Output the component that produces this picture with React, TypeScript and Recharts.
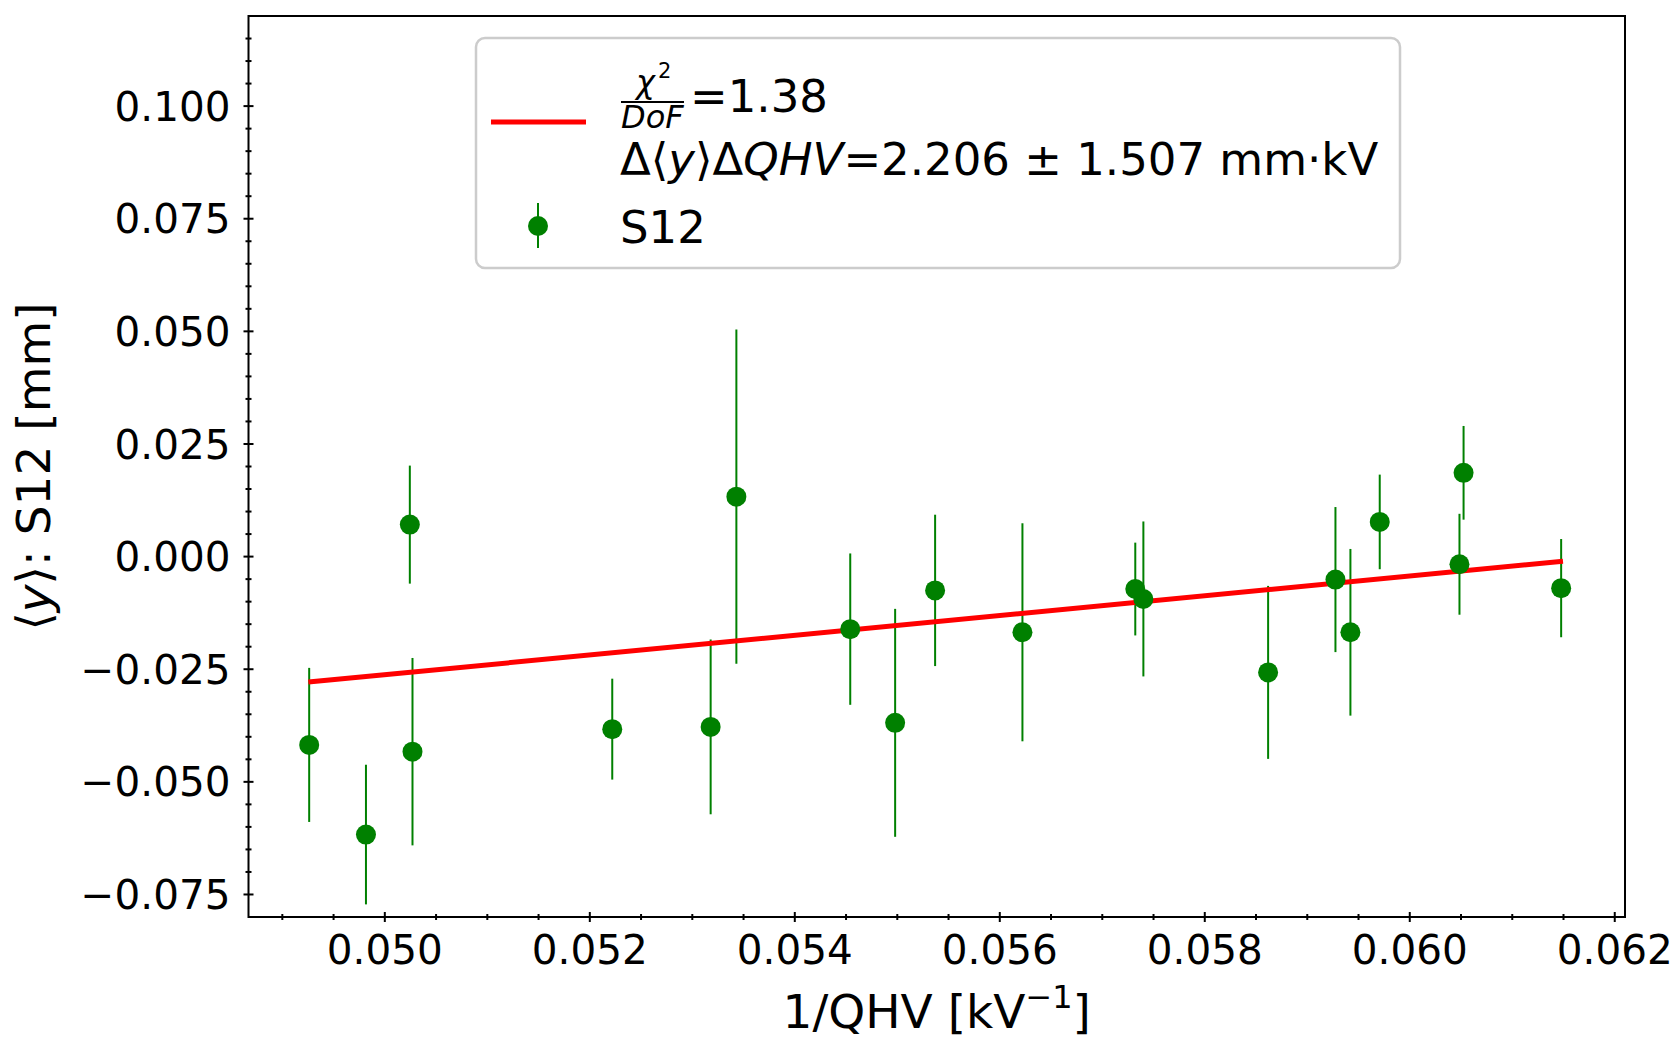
import React from 'react';
import { ScatterChart, Scatter, XAxis, YAxis, ErrorBar, ReferenceArea, Customized } from 'recharts';

// ---- data ----
const xValues = [0.049262, 0.049816, 0.050244, 0.05027, 0.052219, 0.053179, 0.05343, 0.054541, 0.054979, 0.055369, 0.056221, 0.057322, 0.057401, 0.058618, 0.059275, 0.059421, 0.059707, 0.060485, 0.060525, 0.061477];
const yValues = [-0.0418, -0.0617, 0.0071, -0.0433, -0.0383, -0.0378, 0.0133, -0.0161, -0.0369, -0.0075, -0.0168, -0.0072, -0.0094, -0.0257, -0.0051, -0.0168, 0.0077, -0.0017, 0.0186, -0.0070];
const yErrors = [0.0171, 0.0155, 0.0131, 0.0208, 0.0112, 0.0194, 0.0371, 0.0168, 0.0253, 0.0168, 0.0242, 0.0103, 0.0172, 0.0192, 0.0161, 0.0185, 0.0105, 0.0112, 0.0104, 0.0109];

const fitX = [0.049254, 0.061495];
const fitY = [-0.02785, -0.00104];

const xDomain = [0.04867, 0.0621];
const yDomain = [-0.08, 0.12];

const xMajorTicks = [0.05, 0.052, 0.054, 0.056, 0.058, 0.06, 0.062];
const xMinorTicks = [0.049, 0.0495, 0.0505, 0.051, 0.0515, 0.0525, 0.053, 0.0535, 0.0545, 0.055, 0.0555, 0.0565, 0.057, 0.0575, 0.0585, 0.059, 0.0595, 0.0605, 0.061, 0.0615];
const yMajorTicks = [-0.075, -0.05, -0.025, 0, 0.025, 0.05, 0.075, 0.1];
const yMinorTicks = [-0.07, -0.065, -0.06, -0.055, -0.045, -0.04, -0.035, -0.03, -0.02, -0.015, -0.01, -0.005, 0.005, 0.01, 0.015, 0.02, 0.03, 0.035, 0.04, 0.045, 0.055, 0.06, 0.065, 0.07, 0.08, 0.085, 0.09, 0.095, 0.105, 0.11, 0.115];

const legendFitLabel = '=1.38';
const legendSlopeValue = '=2.206 ± 1.507 mm·kV';
const legendSeriesLabel = 'S12';

// ---- layout ----
const W = 1678;
const H = 1043;
const PLOT_LEFT = 248.5;
const PLOT_RIGHT = 1625;
const PLOT_TOP = 16;
const PLOT_BOTTOM = 917;
const Y_AXIS_W = 100;
const X_AXIS_H = 60;
const FONT = '"DejaVu Sans", sans-serif';
const GREEN = '#008000';
const RED = '#ff0000';
const LABEL_SIZE = 47;

const isMajor = (v: number, majors: number[]) => majors.some((m) => Math.abs(m - v) < 1e-9);
const fmt = (v: number) => {
  const s = Math.abs(v) < 1e-12 ? '0.000' : v.toFixed(3);
  return s.replace('-', '\u2212');
};

function XTick(props: any) {
  const { x, y, payload } = props;
  const v = payload.value;
  const major = isMajor(v, xMajorTicks);
  const len = major ? 5 : 3;
  return (
    <g>
      <line x1={x} x2={x} y1={y - len} y2={y + len} stroke="#000" strokeWidth={2} />
      {major && (
        <text x={x} y={y + 47} textAnchor="middle" fontFamily={FONT} fontSize={40.5} fill="#000">
          {fmt(v)}
        </text>
      )}
    </g>
  );
}

function YTick(props: any) {
  const { x, y, payload } = props;
  const v = payload.value;
  const major = isMajor(v, yMajorTicks);
  const len = major ? 5 : 3;
  return (
    <g>
      <line x1={x - len} x2={x + len} y1={y} y2={y} stroke="#000" strokeWidth={2} />
      {major && (
        <text x={x - 18} y={y + 14.6} textAnchor="end" fontFamily={FONT} fontSize={40.5} fill="#000">
          {fmt(v)}
        </text>
      )}
    </g>
  );
}

function Overlay() {
  const cx = (PLOT_LEFT + PLOT_RIGHT) / 2;
  const cy = (PLOT_TOP + PLOT_BOTTOM) / 2;
  return (
    <g>
      {/* x label */}
      <text x={cx} y={1028} textAnchor="middle" fontFamily={FONT} fontSize={LABEL_SIZE} fill="#000">
        1/QHV [kV
        <tspan fontSize={32} dy={-20}>{'\u22121'}</tspan>
        <tspan dy={20}>]</tspan>
      </text>
      {/* y label */}
      <text
        x={50}
        y={cy}
        transform={`rotate(-90 50 ${cy})`}
        textAnchor="middle"
        fontFamily={FONT}
        fontSize={LABEL_SIZE}
        fill="#000"
      >
        {'\u27E8'}
        <tspan fontStyle="italic">y</tspan>
        {'\u27E9: S12 [mm]'}
      </text>
      {/* legend */}
      <rect x={476} y={38} width={924} height={230} rx={9} ry={9} fill="#fff" fillOpacity={0.8} stroke="#cccccc" strokeWidth={2.5} />
      <line x1={491} x2={586} y1={122} y2={122} stroke={RED} strokeWidth={5} />
      <text x={636} y={93} fontFamily={FONT} fontSize={32} fontStyle="italic" fill="#000">{'\u03C7'}</text>
      <text x={658} y={78} fontFamily={FONT} fontSize={21} fill="#000">2</text>
      <line x1={621} x2={684} y1={102} y2={102} stroke="#000" strokeWidth={2} />
      <text x={621} y={128} fontFamily={FONT} fontSize={32} fontStyle="italic" fill="#000">DoF</text>
      <text x={690} y={112} fontFamily={FONT} fontSize={45} fill="#000">{legendFitLabel}</text>
      <text x={620} y={175} fontFamily={FONT} fontSize={45} fill="#000">
        {'\u0394\u27E8'}
        <tspan fontStyle="italic">y</tspan>
        {'\u27E9\u0394'}
        <tspan fontStyle="italic">QHV</tspan>
        {legendSlopeValue}
      </text>
      <line x1={538} x2={538} y1={203} y2={248} stroke={GREEN} strokeWidth={2} />
      <circle cx={538} cy={226} r={10} fill={GREEN} />
      <text x={620} y={243} fontFamily={FONT} fontSize={45} fill="#000">{legendSeriesLabel}</text>
    </g>
  );
}

const Dot = (props: any) => {
  const { cx, cy } = props;
  if (cx == null || cy == null) return <g />;
  return <circle cx={cx} cy={cy} r={10} fill={GREEN} />;
};
const NoDot = () => <g />;

export default function App() {
  const data = xValues.map((x, i) => ({ x, y: yValues[i], err: yErrors[i] }));
  const fitData = fitX.map((x, i) => ({ x, y: fitY[i] }));
  const xTicks = [...xMinorTicks, ...xMajorTicks];
  const yTicks = [...yMinorTicks, ...yMajorTicks];
  return (
    <div style={{ position: 'absolute', left: 0, top: 0, width: W, height: H, background: '#fff', overflow: 'hidden' }}>
      <ScatterChart
        width={W}
        height={H}
        margin={{ top: PLOT_TOP, right: W - PLOT_RIGHT, bottom: H - PLOT_BOTTOM - X_AXIS_H, left: PLOT_LEFT - Y_AXIS_W }}
      >
        <XAxis
          type="number"
          dataKey="x"
          domain={xDomain}
          ticks={xTicks}
          interval={0}
          allowDataOverflow
          axisLine={false}
          tickLine={false}
          tickSize={0}
          tickMargin={0}
          height={X_AXIS_H}
          tick={(p: any) => <XTick {...p} />}
        />
        <YAxis
          type="number"
          dataKey="y"
          domain={yDomain}
          ticks={yTicks}
          interval={0}
          allowDataOverflow
          axisLine={false}
          tickLine={false}
          tickSize={0}
          tickMargin={0}
          width={Y_AXIS_W}
          tick={(p: any) => <YTick {...p} />}
        />
        <ReferenceArea
          x1={xDomain[0]}
          x2={xDomain[1]}
          y1={yDomain[0]}
          y2={yDomain[1]}
          fill="none"
          fillOpacity={0}
          stroke="#000"
          strokeWidth={2}
          ifOverflow="visible"
        />
        <Scatter
          data={fitData}
          line={{ stroke: RED, strokeWidth: 5 }}
          shape={NoDot}
          isAnimationActive={false}
          legendType="none"
        />
        <Scatter data={data} fill={GREEN} shape={Dot} isAnimationActive={false}>
          <ErrorBar dataKey="err" direction="y" width={0} stroke={GREEN} strokeWidth={2} isAnimationActive={false} />
        </Scatter>
        <Customized component={<Overlay />} />
      </ScatterChart>
    </div>
  );
}
